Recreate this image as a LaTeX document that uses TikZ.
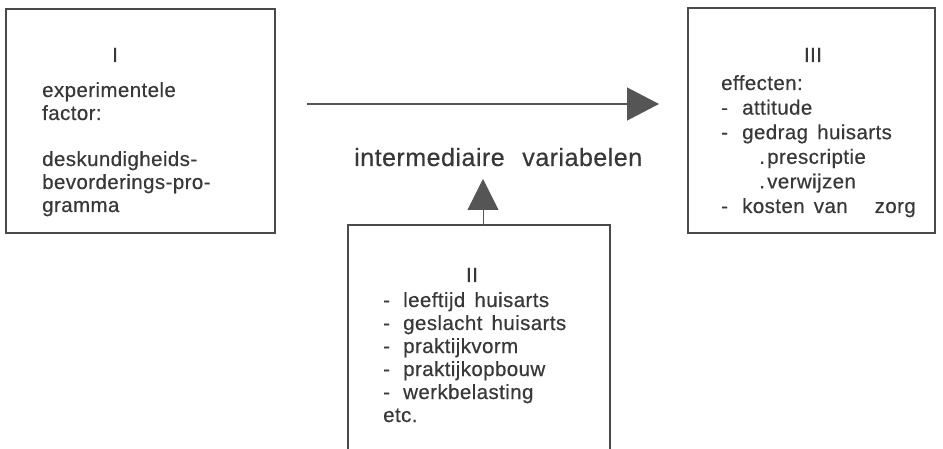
\documentclass[tikz,border=0pt]{standalone}
\usepackage{fontspec}
\setmainfont{Liberation Sans}[LetterSpace=2, WordSpace=1.5, FakeBold=0.4]
\usetikzlibrary{arrows.meta}
\definecolor{ink}{HTML}{383838}
\definecolor{linec}{HTML}{4A4A4A}
\definecolor{headc}{HTML}{555555}
\newcommand{\dsh}[1]{\makebox[#1][l]{-}}
\newcommand{\dt}{\makebox[8pt][l]{.}}
\begin{document}
\begin{tikzpicture}[x=1pt,y=-1pt,
  box/.style={draw=linec, line width=1.6pt, inner sep=0pt, rectangle},
  boxline/.style={draw=linec, line width=1.6pt},
  txt/.style={anchor=base west, inner sep=0pt, text=ink, font=\fontsize{20.5}{24}\selectfont},
  ttl/.style={anchor=base, inner sep=0pt, text=ink, font=\fontsize{20.5}{24}\selectfont},
  lbl/.style={anchor=base west, inner sep=0pt, text=ink, font=\fontsize{25}{30}\selectfont},
  mainarrow/.style={draw=headc, line width=1.2pt, -{Triangle[length=32pt,width=33pt]}},
  uparrow/.style={draw=headc, line width=0.8pt, -{Triangle[length=31pt,width=31pt]}}]
\useasboundingbox (0,0) rectangle (943,449);
\fill[white] (0,0) rectangle (943,449);
% boxes
\node[box, minimum width=269pt, minimum height=224pt] (b1) at (140.5,121) {};
\node[box, minimum width=247pt, minimum height=225pt] (b3) at (811.5,120.5) {};
\node[inner sep=0pt, minimum width=262pt, minimum height=224pt] (b2) at (479,337) {};
\draw[boxline] (b2.south west) -- (b2.north west) -- (b2.north east) -- (b2.south east);
% box I text
\node[ttl] (t1) at (115,62) {I};
\node[txt] (a1) at (42,97) {experimentele};
\node[txt] (a2) at (42,120) {factor:};
\node[txt] (a3) at (42,166) {deskundigheids-};
\node[txt] (a4) at (42,189) {bevorderings-pro-};
\node[txt] (a5) at (42,212) {gramma};
% box II text
\node[ttl] (t2) at (472,282) {II};
\node[txt] (c1) at (383,307) {\dsh{20pt}leeftijd huisarts};
\node[txt] (c2) at (383,330) {\dsh{20pt}geslacht huisarts};
\node[txt] (c3) at (383,353) {\dsh{20pt}praktijkvorm};
\node[txt] (c4) at (383,376) {\dsh{20pt}praktijkopbouw};
\node[txt] (c5) at (383,399) {\dsh{20pt}werkbelasting};
\node[txt] (c6) at (383,422) {etc.};
% box III text
\node[ttl] (t3) at (813,62) {III};
\node[txt] (e1) at (721,90) {effecten:};
\node[txt] (e2) at (721,114.6) {\dsh{21pt}attitude};
\node[txt] (e3) at (721,139.2) {\dsh{21pt}gedrag huisarts};
\node[txt] (e4) at (759,163.8) {\dt prescriptie};
\node[txt] (e5) at (759,188.4) {\dt verwijzen};
\node[txt] (e6) at (721,213) {\dsh{21pt}kosten van\hspace{27pt}zorg};
% label
\node[lbl] (lab) at (354,166) {\makebox[288pt][s]{intermediaire variabelen}};
% arrows
\coordinate (hs) at (307,104);
\coordinate (he) at (659,104);
\draw[mainarrow] (hs) -- (he);
\coordinate (us) at (483,225);
\coordinate (ue) at (483,179);
\draw[uparrow] (us) -- (ue);
\end{tikzpicture}
\end{document}
